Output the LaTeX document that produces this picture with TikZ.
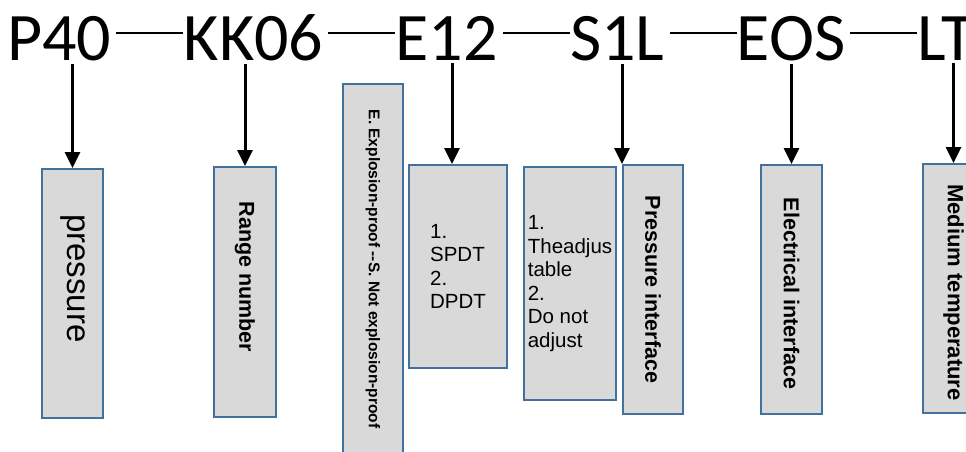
\documentclass[tikz,border=0pt]{standalone}
\usepackage{fontspec}
\usepackage{graphicx}
\usetikzlibrary{positioning,arrows.meta}
\setmainfont{Liberation Sans}
\newfontfamily\codefont{Carlito}
\definecolor{boxfill}{HTML}{D9D9D9}
\definecolor{boxline}{HTML}{41719C}
\newcommand{\vlabel}[1]{\rotatebox{-90}{#1}}
\tikzset{
code/.style={inner sep=0pt, font=\codefont\fontsize{68}{82}\selectfont},
field/.style={rectangle, draw=boxline, fill=boxfill, line width=2pt, inner sep=0pt, anchor=north west, font=\bfseries\fontsize{21.5}{25}\selectfont},
list/.style={align=left, font=\fontsize{20.5}{23.5}\selectfont},
link/.style={line width=2.5pt, draw=black},
}
\tikzstyle{pointer} = [line width=3pt, draw=black, -{Triangle[width=15pt,length=16pt]}, shorten <=2pt]

\begin{document}
\begin{tikzpicture}[x=1pt,y=-1pt]
\useasboundingbox (0,0) rectangle (966,452);
\node[code, anchor=base west] (p40) at (7,61) {P40};
\node[code, base right=72pt of p40] (kk06) {KK06};
\node[code, base right=72pt of kk06] (e12) {E12};
\node[code, base right=72pt of e12] (s1l) {S1L};
\node[code, base right=72pt of s1l] (eos) {EOS};
\node[code, base right=72pt of eos] (lt) {LT};
\draw[link] ([yshift=28pt,xshift=5pt]p40.base east) -- ([yshift=28pt]kk06.base west);
\draw[link] ([yshift=28pt,xshift=5pt]kk06.base east) -- ([yshift=28pt]e12.base west);
\draw[link] ([yshift=28pt,xshift=5pt]e12.base east) -- ([yshift=28pt]s1l.base west);
\draw[link] ([yshift=28pt,xshift=5pt]s1l.base east) -- ([yshift=28pt]eos.base west);
\draw[link] ([yshift=28pt,xshift=5pt]eos.base east) -- ([yshift=28pt]lt.base west);
\node[field, minimum width=61pt, minimum height=249pt] (pres) at (41,168)
  {\vlabel{\mdseries\fontsize{33}{40}\selectfont pressure\hspace{30pt}}};
\node[field, minimum width=62pt, minimum height=250pt] (range) at (213,166)
  {\vlabel{Range number\hspace{30pt}}};
\node[field, minimum width=60pt, minimum height=377pt, font=\bfseries\fontsize{15.5}{18}\selectfont] (expl) at (342,83)
  {\vlabel{E. Explosion-proof -{}-S. Not explosion-proof\hspace{7pt}}};
\node[field, list, minimum width=98pt, minimum height=203pt] (sw) at (408,164)
  {1.\\SPDT\\2.\\DPDT};
\node[field, list, minimum width=92pt, minimum height=233pt] (adj) at (523,166)
  {1.\\Theadjus\\table\\2.\\Do not\\adjust};
\node[field, minimum width=60pt, minimum height=249pt] (pint) at (622,164)
  {\vlabel{Pressure interface}};
\node[field, minimum width=61pt, minimum height=249pt] (eint) at (760,164)
  {\vlabel{\hspace{8pt}Electrical interface}};
\node[field, minimum width=61pt, minimum height=249pt, font=\bfseries\fontsize{22}{26}\selectfont] (temp) at (922,163)
  {\vlabel{\hspace{8pt}Medium temperature}};
\draw[pointer] (pres.north |- p40.south) -- (pres.north);
\draw[pointer] (range.north |- kk06.south) -- (range.north);
\draw[pointer] ([xshift=-6pt]sw.north |- e12.south) -- ([xshift=-6pt]sw.north);
\draw[pointer] (pint.north west |- s1l.south) -- (pint.north west);
\draw[pointer] (eint.north |- eos.south) -- (eint.north);
\draw[pointer] (temp.north |- lt.south) -- (temp.north);
\end{tikzpicture}
\end{document}
